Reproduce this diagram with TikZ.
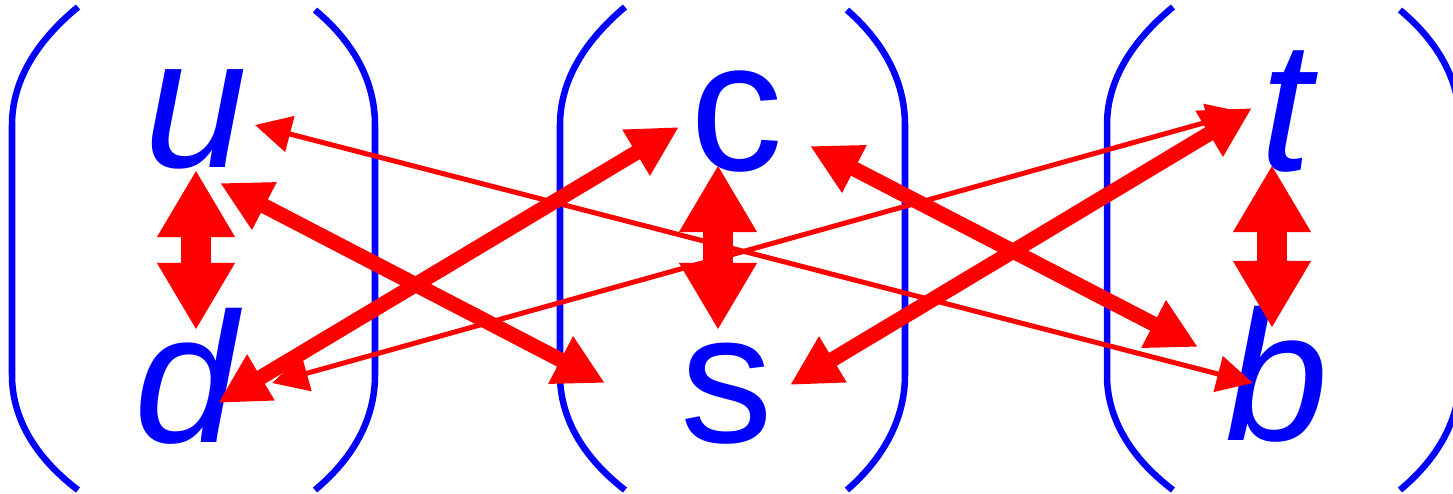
\documentclass[tikz,border=0pt]{standalone}
\usepackage{fontspec}
\setmainfont{Liberation Sans}
\usetikzlibrary{arrows.meta}

\begin{document}
\begin{tikzpicture}[x=0.01cm, y=-0.01cm,
        quark/.style     = {text=blue, inner sep=0pt, anchor=base, font=\fontsize{52.7}{60}\selectfont},
        paren/.style     = {draw=blue, line width=0.065cm},
        % vertical arrows inside one doublet
        doublet/.style   = {draw=red, line width=0.3cm, {Triangle[width=0.73cm, length=0.67cm]}-{Triangle[width=0.73cm, length=0.67cm]}},
        % crossed arrows between doublets
        strongmix/.style = {draw=red, line width=0.15cm, {Triangle[width=0.5cm, length=0.5cm]}-{Triangle[width=0.5cm, length=0.5cm]}},
        weakmix/.style   = {draw=red, line width=0.05cm, {Triangle[width=0.36cm, length=0.36cm]}-{Triangle[width=0.36cm, length=0.36cm]}}
    ]
    \useasboundingbox (0,0) rectangle (1453,493);
    \clip (0,0) rectangle (1453,493);

    % --- Parentheses ---
    \draw[paren] (78,7) .. controls (32,45) and (12,85) .. (12,125) -- (12,375) .. controls (12,415) and (32,455) .. (78,490);
    \draw[paren] (315,10) .. controls (357,45) and (375,85) .. (375,125) -- (375,375) .. controls (375,415) and (357,455) .. (315,490);
    \draw[paren] (625,7) .. controls (580,45) and (560,85) .. (560,125) -- (560,375) .. controls (560,415) and (580,455) .. (625,490);
    \draw[paren] (847,10) .. controls (887,45) and (905,85) .. (905,125) -- (905,375) .. controls (905,415) and (887,455) .. (847,490);
    \draw[paren] (1173,7) .. controls (1127,45) and (1107,85) .. (1107,125) -- (1107,375) .. controls (1107,415) and (1127,455) .. (1173,490);
    \draw[paren] (1400,10) .. controls (1442,45) and (1460,85) .. (1460,125) -- (1460,375) .. controls (1460,415) and (1442,455) .. (1400,490);

    % --- Quarks ---
    \node[quark] (u) at (196,167) {\itshape u};
    \node[quark] (d) at (186,442) {\itshape d};
    \node[quark] (c) at (737,170) {c};
    \node[quark] (s) at (727,442) {s};
    \node[quark] (t) at (1286,170) {\itshape t};
    \node[quark] (b) at (1277,440) {\itshape b};

    % Arrows
    \draw[doublet] ([shift={(0,3)}]u.base) -- ([shift={(10,-112)}]d.base);
    \draw[doublet] ([shift={(-19,-5)}]c.base) -- ([shift={(-9,-112)}]s.base);
    \draw[doublet] ([shift={(-14,-5)}]t.base) -- ([shift={(-5,-112)}]b.base);

    \draw[weakmix] ([shift={(59,-42)}]u.base) -- ([shift={(-24,-57)}]b.base);
    \draw[weakmix] ([shift={(86,-59)}]d.base) -- ([shift={(-43,-58)}]t.base);

    \draw[strongmix] ([shift={(24,16)}]u.base) -- ([shift={(-122,-59)}]s.base);
    \draw[strongmix] ([shift={(32,-39)}]d.base) -- ([shift={(-58,-43)}]c.base);
    \draw[strongmix] ([shift={(73,-24)}]c.base) -- ([shift={(-79,-93)}]b.base);
    \draw[strongmix] ([shift={(63,-57)}]s.base) -- ([shift={(-34,-62)}]t.base);

\end{tikzpicture}
\end{document}
